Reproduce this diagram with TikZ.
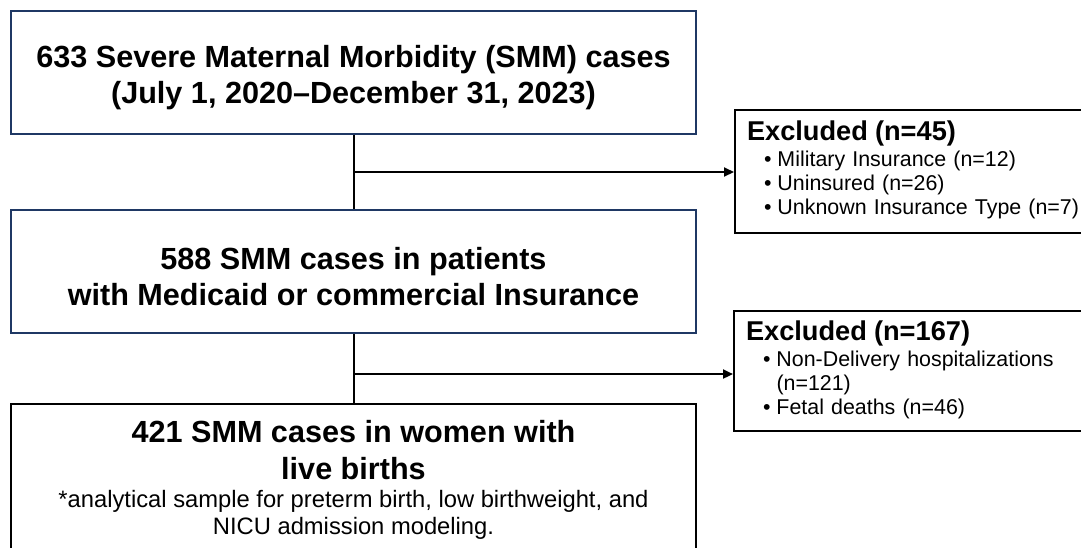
\documentclass[tikz,border=0pt]{standalone}
\usepackage{fontspec}
\setmainfont{Liberation Sans}
\usetikzlibrary{arrows.meta,calc}

\definecolor{boxnavy}{RGB}{31,56,100}

\tikzset{
  stage/.style={draw=boxnavy, line width=2pt, fill=white, minimum width=685pt,
    minimum height=123pt, inner sep=0pt, align=center,
    font=\fontsize{30.6}{36.5}\selectfont\bfseries},
  livebox/.style={stage, draw=black, minimum height=152pt},
  exbox/.style={draw=black, line width=2pt, fill=white, anchor=west,
    text width=332pt, inner xsep=12pt, inner ysep=0pt, align=left,
    minimum height=123pt, font=\fontsize{21.4}{24}\selectfont},
  link/.style={line width=2pt},
  flow/.style={link, -{Triangle[length=10pt,width=9pt]}}
}
\newcommand{\exhead}{\fontsize{27.2}{24}\selectfont\bfseries}
\newcommand{\capgap}{\rule{0pt}{32pt}}
\newcommand{\note}{\mdseries\fontsize{23.75}{27}\selectfont}

\begin{document}
\begin{tikzpicture}[x=1pt,y=-1pt]
  \useasboundingbox (0,0) rectangle (1081,547);
  \clip (0,0) rectangle (1081,547);
  %main stages
  \node[stage] (smm) at (353.5,72.5)
    {\capgap 633 Severe Maternal Morbidity (SMM) cases\\
     (July 1, 2020\textendash December 31, 2023)};
  \node[stage] (insured) at (353.5,271.5)
    {\capgap 588 SMM cases in patients\\
     with Medicaid or commercial Insurance};
  \node[livebox] (live) at (353.5,480)
    {421 SMM cases in women with\\ live births\\[-8pt]
     {\note *analytical sample for preterm birth, low birthweight, and}\\[-9.5pt]
     {\note NICU admission modeling.}};
  %exclusions
  \node[exbox] (exins) at (734,171.5)
    {\begin{tabular}{@{\hspace{17pt}}l@{\hspace{6pt}}l@{}}
       \multicolumn{2}{@{}l@{}}{\exhead Excluded (n=45)}\\[2pt]
       \textbullet & Military Insurance (n=12)\\
       \textbullet & Uninsured (n=26)\\
       \textbullet & Unknown Insurance Type (n=7)
     \end{tabular}};
  \node[exbox, minimum height=120pt] (exdel) at (733,371)
    {\begin{tabular}{@{\hspace{17pt}}l@{\hspace{6pt}}l@{}}
       \multicolumn{2}{@{}l@{}}{\exhead Excluded (n=167)}\\[2pt]
       \textbullet & Non-Delivery hospitalizations\\
                   & (n=121)\\
       \textbullet & Fetal deaths (n=46)
     \end{tabular}};
  %flow lines
  \coordinate (split1) at ($(smm.south)!0.5!(insured.north)$);
  \coordinate (split2) at ($(insured.south)!0.58!(live.north)$);
  \draw[link] (smm.south) -- (insured.north);
  \draw[link] (insured.south) -- (live.north);
  \draw[flow] (split1) -- (split1 -| exins.west);
  \draw[flow] (split2) -- (split2 -| exdel.west);
\end{tikzpicture}
\end{document}
